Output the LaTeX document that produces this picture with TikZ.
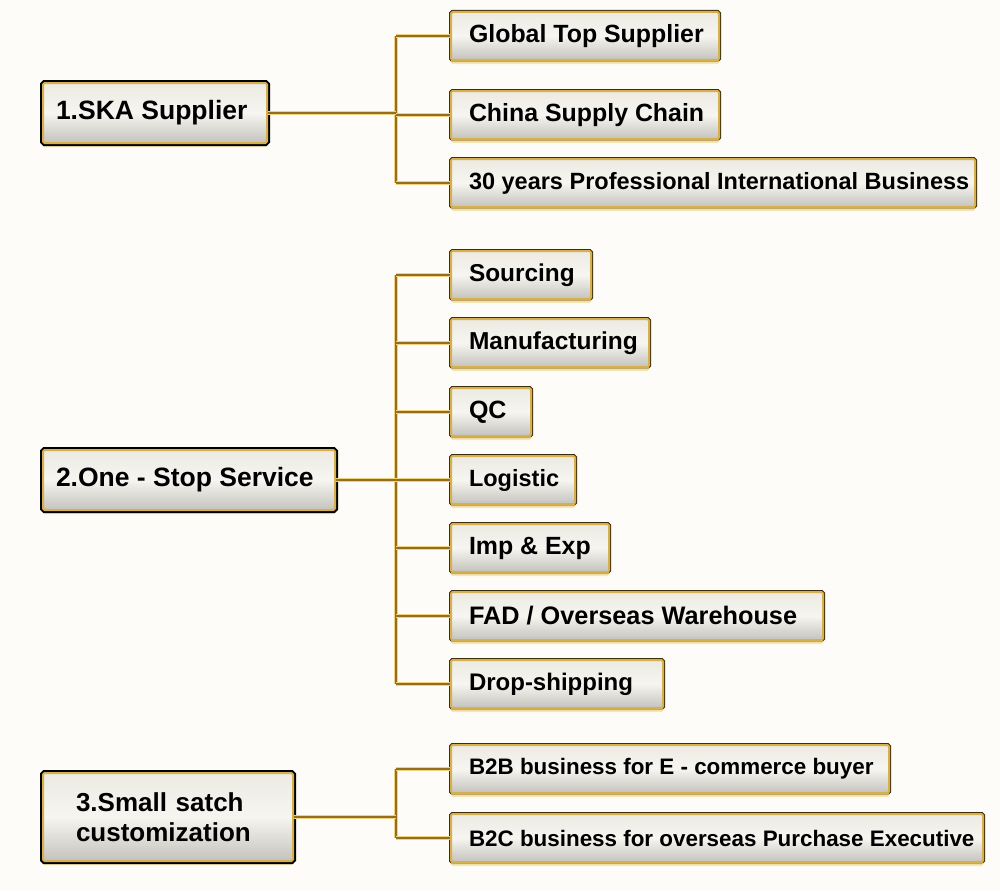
\documentclass[tikz,border=0pt]{standalone}
\usepackage{fontspec}
\setmainfont{Liberation Sans}
\usetikzlibrary{shadows}
\definecolor{bgc}{RGB}{253,252,248}
\definecolor{goldc}{RGB}{214,176,78}
\definecolor{edgec}{RGB}{60,45,15}
\definecolor{connc}{RGB}{150,110,25}
\definecolor{connd}{RGB}{238,212,130}
\definecolor{glowc}{RGB}{243,222,150}
\definecolor{fillt}{RGB}{236,234,226}
\definecolor{fillm}{RGB}{246,245,240}
\definecolor{fillb}{RGB}{196,194,188}
\newcommand{\tbx}[2]{\makebox[#1][l]{#2}}
\tikzset{
  box/.style={rectangle, anchor=north west, align=left, rounded corners=1.5pt,
    preaction={draw=edgec, line width=4pt},
    draw=goldc, line width=2pt,
    top color=fillt, bottom color=fillb, middle color=fillm,
    drop shadow={fill=glowc, opacity=0.7, shadow xshift=0pt, shadow yshift=-4pt},
    inner ysep=0pt},
  mainbox/.style={box, font=\fontsize{26.5}{30}\selectfont\bfseries,
    preaction={draw=black, line width=6pt}, inner xsep=13pt},
  child/.style={box, font=\fontsize{#1}{28}\selectfont\bfseries,
    inner xsep=18pt, minimum height=48pt},
  child/.default=23.5,
  conn/.style={draw=connc, line width=1.4pt,
    preaction={draw=connd, line width=4pt}},
}
\begin{document}
\begin{tikzpicture}[x=1pt, y=-1pt]
\fill[bgc] (0,0) rectangle (1000,891);
\useasboundingbox (0,0) rectangle (1000,891);

% group 1
\node[mainbox, minimum height=60pt] (A) at (42,82) {\tbx{198pt}{1.SKA Supplier}};
\node[child=24.9] (a1) at (450,11) {\tbx{232pt}{Global Top Supplier}};
\node[child=24.9] (a2) at (450,90) {\tbx{232pt}{China Supply Chain}};
\node[child=23.5] (a3) at (450,158) {\tbx{488pt}{30 years Professional International Business}};
\coordinate (t1) at (396,0);
\draw[conn] (a1.west -| t1) -- (a3.west -| t1);
\draw[conn] (A.east) -- (A.east -| t1);
\foreach \c in {a1,a2,a3} \draw[conn] (\c.west -| t1) -- (\c.west);

% group 2
\node[mainbox, minimum height=60pt] (B) at (42,449) {\tbx{266pt}{2.One - Stop Service}};
\node[child=24.4] (b1) at (450,250) {\tbx{104pt}{Sourcing}};
\node[child=24.5] (b2) at (450,318) {\tbx{162pt}{Manufacturing}};
\node[child=25]   (b3) at (450,387) {\tbx{44pt}{QC}};
\node[child=23.5] (b4) at (450,455) {\tbx{88pt}{Logistic}};
\node[child=24.9] (b5) at (450,523) {\tbx{122pt}{Imp \& Exp}};
\node[child=25.3] (b6) at (450,591) {\tbx{336pt}{FAD / Overseas Warehouse}};
\node[child=24]   (b7) at (450,659) {\tbx{176pt}{Drop-shipping}};
\coordinate (t2) at (396,0);
\draw[conn] (b1.west -| t2) -- (b7.west -| t2);
\draw[conn] (B.east) -- (B.east -| t2);
\foreach \c in {b1,b2,b3,b4,b5,b6,b7} \draw[conn] (\c.west -| t2) -- (\c.west);

% group 3
\node[mainbox, font=\fontsize{26}{30}\selectfont\bfseries, inner xsep=33pt,
  text width=184pt, minimum height=88pt] (C) at (42,772)
  {3.Small satch\\customization};
\node[child=22.4] (c1) at (450,744) {\tbx{402pt}{B2B business for E - commerce buyer}};
\node[child=22.4] (c2) at (450,813) {\tbx{496pt}{B2C business for overseas Purchase Executive}};
\coordinate (t3) at (396,0);
\draw[conn] (c1.west -| t3) -- (c2.west -| t3);
\draw[conn] (C.east) -- (C.east -| t3);
\foreach \c in {c1,c2} \draw[conn] (\c.west -| t3) -- (\c.west);
\end{tikzpicture}
\end{document}
